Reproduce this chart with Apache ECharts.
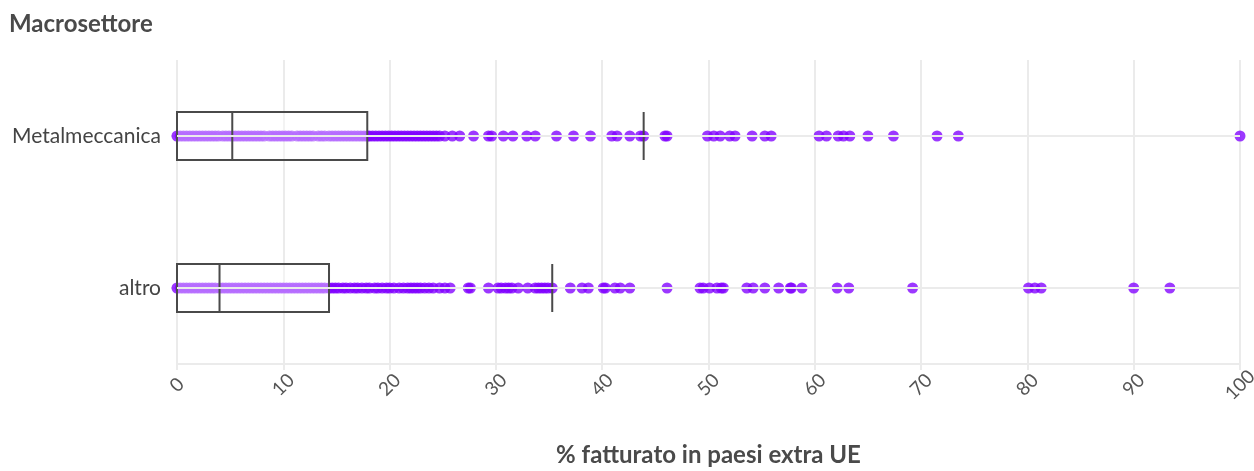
<!DOCTYPE html>
<html>
<head>
<meta charset="utf-8">
<title>Macrosettore</title>
<script src="https://cdn.jsdelivr.net/npm/echarts@6/dist/echarts.min.js"></script>
<style>
  html, body { margin: 0; padding: 0; background: #ffffff; }
  #chart { width: 1254px; height: 471px; }
</style>
</head>
<body>
<div id="chart"></div>
<script>
// Sectors, listed bottom to top on the category axis
const categories = ['altro', 'Metalmeccanica'];

// Box summaries per sector: [min, Q1, median, Q3, upper whisker]
const boxAltro = [0, 0, 4.0, 14.3, 35.3];
const boxMetal = [0, 0, 5.2, 17.9, 43.9];

// Individual firm values (% turnover outside the EU), sector "Metalmeccanica"
const metalValues = [
  0, 0.3, 0.6, 0.9, 1.2, 1.5, 1.8, 2.1, 2.4, 2.7, 3.0, 3.3, 3.6, 3.9, 4.3, 4.6,
  4.9, 5.2, 5.5, 5.8, 6.1, 6.4, 6.7, 7.0, 7.3, 7.6, 7.9, 8.2, 8.7, 9.0, 9.3, 9.6,
  9.9, 10.2, 10.5, 10.8, 11.3, 11.6, 11.9, 12.2, 12.5, 12.8, 13.3, 13.6, 13.9,
  14.3, 14.6, 14.9, 15.2, 15.5, 15.8, 16.1, 16.4, 16.7, 17.0, 17.3, 17.6, 17.9,
  18.1, 18.4, 18.7, 19.0, 19.3, 19.6, 19.9, 20.2, 20.5, 20.8, 21.1, 21.4, 21.7,
  22.0, 22.3, 22.6, 22.9, 23.2, 23.5, 23.8, 24.1, 24.4, 24.7, 25.2, 25.9, 26.6,
  27.9, 29.3, 29.6, 30.7, 31.6, 32.9, 33.7, 35.7, 37.3, 38.9, 40.9, 41.4, 42.6,
  43.6, 43.9, 45.9, 46.1, 49.9, 50.5, 51.1, 52.0, 52.5, 54.1, 55.3, 55.9,
  60.4, 61.1, 62.2, 62.7, 63.3, 65.0, 67.4, 71.5, 73.5, 100
];

// Individual firm values, sector "altro"
const altroValues = [
  0, 0.3, 0.6, 0.9, 1.2, 1.5, 1.8, 2.1, 2.4, 2.7, 3.0, 3.3, 3.6, 4.0, 4.3, 4.6,
  4.9, 5.2, 5.5, 5.8, 6.1, 6.4, 6.7, 7.0, 7.3, 7.6, 7.9, 8.2, 8.5, 8.8, 9.1, 9.4,
  9.7, 10.0, 10.3, 10.6, 10.9, 11.2, 11.5, 11.8, 12.1, 12.4, 12.7, 13.0, 13.3,
  13.6, 13.9, 14.3, 14.6, 14.9, 15.2, 15.6, 15.9, 16.3, 16.7, 17.0, 17.4, 17.8,
  18.1, 18.6, 18.9, 19.3, 19.7, 20.0, 20.4, 20.9, 21.3, 21.7, 22.0, 22.3, 22.6,
  22.9, 23.3, 23.7, 24.1, 24.7, 25.2, 25.7, 27.4, 27.6, 29.3, 30.2, 30.5, 30.9,
  31.2, 31.5, 32.1, 33.0, 33.7, 34.0, 34.3, 34.6, 34.9, 35.3, 37.0, 38.1, 38.7,
  40.1, 40.3, 41.2, 41.7, 42.6, 46.1, 49.2, 49.5, 50.1, 50.8, 51.2, 51.4, 53.6,
  54.2, 55.3, 56.6, 57.7, 57.8, 58.8, 62.1, 63.2, 69.2, 80.1, 80.7, 81.3, 90.0, 93.4
];

// X axis scale
const xMin = 0, xMax = 100, xStep = 10;

const FONT = 'Lato, "Noto Sans", sans-serif';
const POINT = 'rgba(128, 0, 255, 0.78)';

const chart = echarts.init(document.getElementById('chart'), null, { renderer: 'canvas' });

const points = []
  .concat(altroValues.map(v => [v, 'altro']))
  .concat(metalValues.map(v => [v, 'Metalmeccanica']));

chart.setOption({
  animation: false,
  backgroundColor: '#ffffff',
  textStyle: { fontFamily: FONT },
  title: {
    text: 'Macrosettore',
    left: 4,
    top: 7,
    textStyle: { fontFamily: FONT, fontSize: 24, fontWeight: 'bold', color: '#4a4a4a' }
  },
  grid: { left: 177, right: 14, top: 60, bottom: 107, containLabel: false, outerBoundsMode: 'none' },
  xAxis: {
    type: 'value',
    min: xMin,
    max: xMax,
    interval: xStep,
    name: '% fatturato in paesi extra UE',
    nameLocation: 'middle',
    nameGap: 79,
    nameTextStyle: { fontFamily: FONT, fontSize: 24, fontWeight: 'bold', color: '#4a4a4a' },
    axisLine: { show: true, lineStyle: { color: '#ebebeb', width: 2 } },
    axisTick: { show: true, length: 6, lineStyle: { color: '#ebebeb', width: 2 } },
    axisLabel: {
      rotate: 45, fontSize: 19, color: '#555555', margin: 21, fontFamily: FONT,
      align: 'center', verticalAlign: 'middle'
    },
    splitLine: { show: true, lineStyle: { color: '#ebebeb', width: 2 } }
  },
  yAxis: {
    type: 'category',
    data: categories,
    axisLine: { show: false },
    axisTick: { show: true, alignWithLabel: true, length: 6, lineStyle: { color: '#e6e6e6', width: 2 } },
    axisLabel: { fontSize: 21, color: '#444444', margin: 16, fontFamily: FONT },
    splitLine: { show: false }
  },
  series: [
    {
      // horizontal guide lines through each sector
      type: 'scatter',
      data: [],
      silent: true,
      z: 1,
      markLine: {
        silent: true,
        symbol: 'none',
        label: { show: false },
        lineStyle: { color: '#ebebeb', width: 2, type: 'solid' },
        data: categories.map(c => ({ yAxis: c }))
      }
    },
    {
      type: 'scatter',
      data: points,
      symbol: 'circle',
      symbolSize: 11,
      itemStyle: { color: POINT, opacity: 1 },
      silent: true,
      z: 2
    },
    {
      type: 'boxplot',
      data: [boxAltro, boxMetal],
      boxWidth: [48, 48],
      itemStyle: {
        color: 'rgba(255, 255, 255, 0.42)',
        borderColor: '#4a4a4a',
        borderWidth: 2
      },
      silent: true,
      z: 3
    }
  ]
});
</script>
</body>
</html>
